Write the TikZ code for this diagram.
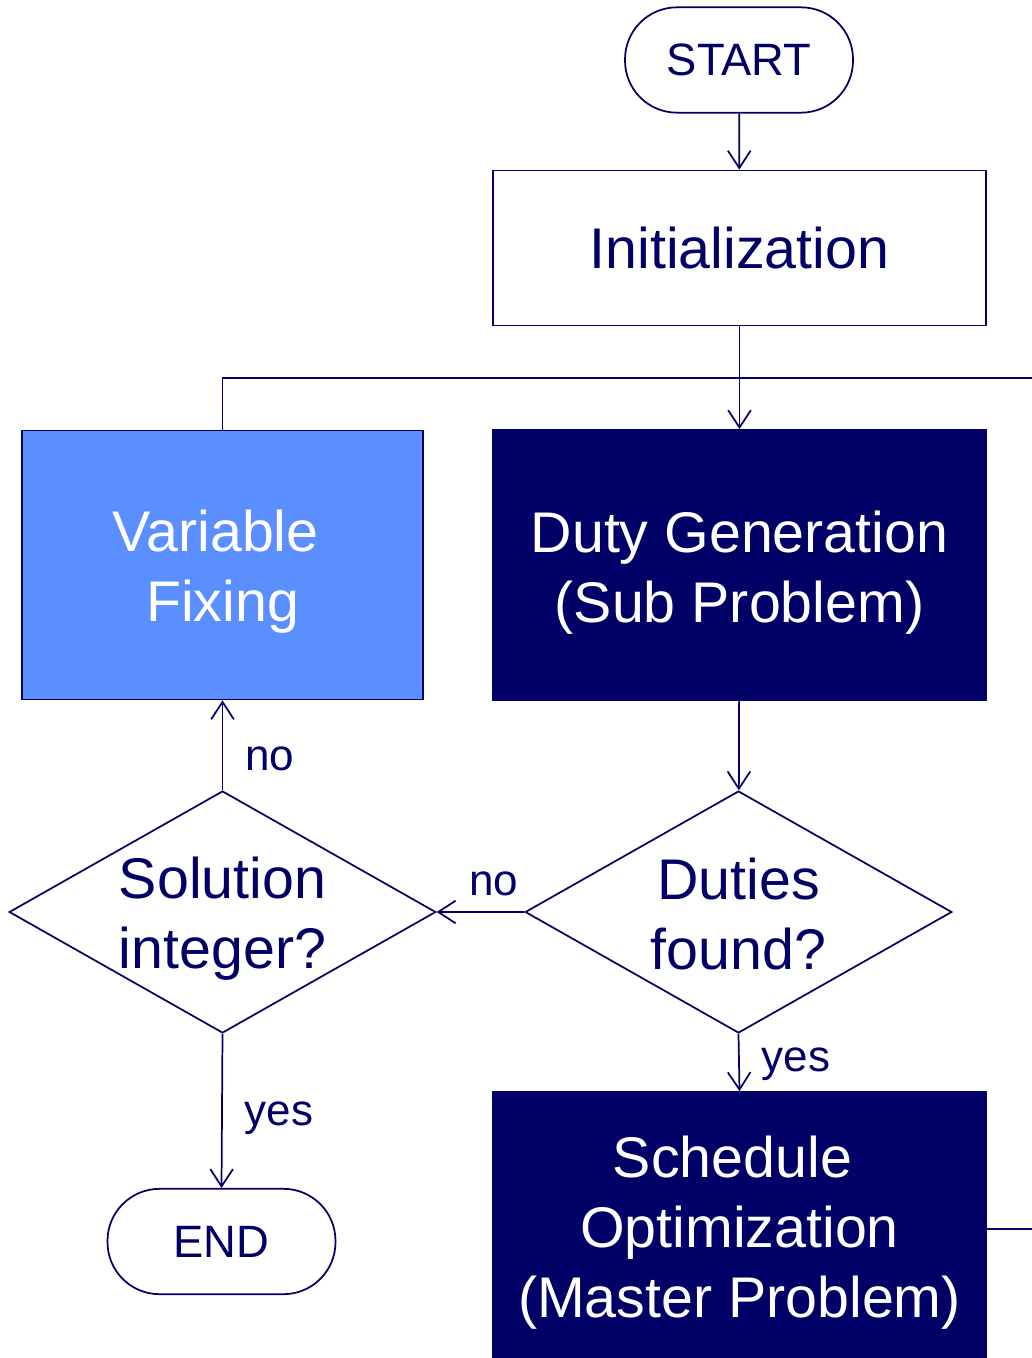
\documentclass[tikz,border=0pt]{standalone}
\usepackage{fontspec}
\setmainfont{Liberation Sans}
\usetikzlibrary{arrows.meta,shapes.geometric}
\definecolor{navy}{RGB}{0,0,102}
\definecolor{fixblue}{RGB}{91,143,255}

\begin{document}
\begin{tikzpicture}[x=0.75pt,y=-0.75pt,color=navy,line width=1.3pt,
  term/.style={rectangle,rounded corners=39pt,draw,minimum width=171pt,minimum height=79pt,
    inner sep=0pt,font=\fontsize{34}{40}\selectfont},
  stepbox/.style={rectangle,draw,inner sep=0pt},
  darkbox/.style={stepbox,fill=navy},
  boxtext/.style={align=center,inner sep=0pt,font=\fontsize{43}{52.5}\selectfont},
  whitetext/.style={boxtext,text=white},
  decision/.style={diamond,draw,minimum width=320pt,minimum height=181.5pt,inner sep=0pt},
  answer/.style={font=\fontsize{33}{40}\selectfont},
  flow/.style={-{Straight Barb[length=13pt,width=17pt]}}]

\useasboundingbox (0,0) rectangle (1031,1358);

\node(start)[term] at (739,60) {START};
\node(init)[stepbox,minimum width=369.75pt,minimum height=116.25pt,
  label={[boxtext]center:Initialization}] at (739.5,248) {};

\node(vf)[stepbox,fill=fixblue,minimum width=300.75pt,minimum height=201.75pt,
  label={[whitetext,yshift=-5.25pt]center:Variable\hspace*{10.5pt}\\Fixing}] at (222.5,565) {};
\node(dg)[darkbox,minimum width=369.75pt,minimum height=202.5pt,
  label={[whitetext,yshift=-6pt]center:Duty Generation\\(Sub Problem)}] at (739.5,565) {};

\node(dup)[decision,label={[boxtext,yshift=-1.5pt]center:Duties\\found?}] at (738.5,912) {};
\node(sol)[decision,label={[boxtext,yshift=-5.25pt]center:Solution\\integer?}] at (222.5,912) {};

\node(endn)[term] at (221.5,1241.5) {END};
\node(sched)[darkbox,minimum width=369.75pt,minimum height=205.5pt,
  label={[whitetext,yshift=-3pt]center:Schedule\hspace*{10.5pt}\\Optimization\\(Master Problem)}] at (739.5,1229) {};

\coordinate(rgt1) at (1045,378);
\coordinate(rgt2) at (1045,1229);

\draw[flow] (start) -- (init);
\draw[flow] (init) -- (dg);
\draw (vf.north) |- (rgt1);
\draw[flow] (dg) -- (dup);
\draw[flow] (dup.west) -- node[answer,above=8pt,pos=0.35]{no} (sol.east);
\draw[flow] (sol.north) -- node[answer,right=13pt,pos=0.35]{no} (vf.south);
\draw[flow] (sol.south) -- node[answer,right=13pt,pos=0.55]{yes} (endn.north);
\draw[flow] (dup.south) -- node[answer,right=13pt,pos=0.53]{yes} (sched.north);
\draw (sched.east) -- (rgt2);

\end{tikzpicture}
\end{document}
